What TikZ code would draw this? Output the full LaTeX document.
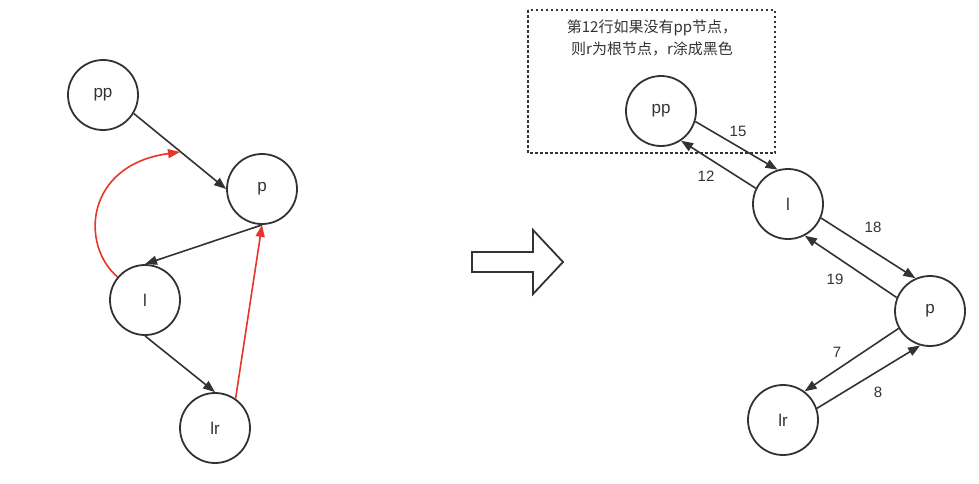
\documentclass[tikz,border=0pt]{standalone}
\usepackage{fontspec}
\setmainfont{Liberation Sans}
\newfontfamily\cjk{Noto Sans CJK SC}
\usetikzlibrary{arrows.meta}
\definecolor{ink}{HTML}{333333}
\definecolor{redline}{HTML}{E8352A}
\begin{document}
\begin{tikzpicture}[x=1pt,y=-1pt,tree/.style={draw=ink,circle,line width=1.8pt,minimum size=70pt,inner sep=0pt,font=\fontsize{17}{20}\selectfont,text=ink},num/.style={font=\fontsize{15}{17}\selectfont,text=ink},link/.style={->,line width=1.6pt,draw=ink,fill=ink},hot/.style={->,line width=1.6pt,draw=redline,fill=redline},>={Triangle[length=12pt,width=9pt]}]
\useasboundingbox (0,0) rectangle (979,483);
% before
\node[tree] (ppL) at (103,95) {pp};
\node[tree] (pL) at (262,189) {p};
\node[tree] (lL) at (145,300) {l};
\node[tree] (lrL) at (215,428) {lr};
\coordinate (cut) at (180,152);
\draw[link] (ppL.-31) -- (pL.180);
\draw[link] (pL.south) -- (lL.north);
\draw[link] (lL.south) -- (lrL.north);
\draw[hot] (lrL.55) -- (pL.south);
\draw[hot,fill=none] (lL.140) .. controls (80,245) and (85,165) .. (cut);
% arrow
\draw[draw=ink,line width=1.8pt] (472,252) -- (533,252) -- (533,230) -- (563,262) -- (533,294) -- (533,272) -- (472,272) -- cycle;
% after
\draw[draw=ink,line width=1.6pt,dash pattern=on 2.5pt off 2.5pt] (528,10) rectangle (775,153);
\node[align=center,font=\cjk\fontsize{15}{22}\selectfont,text=ink] (note) at (652,38) {第12行如果没有pp节点，\\则r为根节点，r涂成黑色};
\node[tree] (ppR) at (661,111) {pp};
\node[tree] (lR) at (788,204) {l};
\node[tree] (pR) at (930,311) {p};
\node[tree] (lrR) at (783,420) {lr};
\draw[link] (ppR.-17) -- (lR.107);
\draw[link] (lR.154) -- (ppR.-56);
\draw[link] (lR.-23) -- (pR.114);
\draw[link] (pR.158) -- (lR.-62);
\draw[link] (pR.-151) -- (lrR.53);
\draw[link] (lrR.19) -- (pR.-106);
\node[num] (e15) at (738,131) {15};
\node[num] (e12) at (706,176) {12};
\node[num] (e18) at (873,227) {18};
\node[num] (e19) at (835,279) {19};
\node[num] (e7) at (837,352) {7};
\node[num] (e8) at (878,392) {8};
\end{tikzpicture}
\end{document}
